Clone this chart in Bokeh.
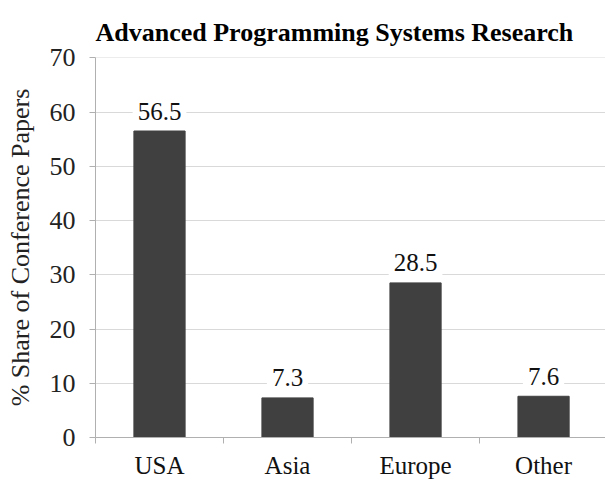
from bokeh.plotting import figure
from bokeh.models import ColumnDataSource, FixedTicker, Range1d
from bokeh.core.properties import value
from bokeh.embed import file_html
from bokeh.resources import INLINE

categories = ["USA", "Asia", "Europe", "Other"]
shares = [56.5, 7.3, 28.5, 7.6]
y_ticks = [0, 10, 20, 30, 40, 50, 60, 70]

FONT = "Liberation Serif"
BAR = "#404040"

xpos = [i + 0.5 for i in range(len(categories))]
bounds = [float(i) for i in range(len(categories))]
src = ColumnDataSource(dict(
    x=xpos, y=shares, cat=categories,
    txt=[f"{v:.1f}" for v in shares],
))

p = figure(width=605, height=481, output_backend="svg", toolbar_location=None,
           x_range=Range1d(0, 3.984), y_range=Range1d(0, 70.05),
           min_border_left=95, min_border_right=0, min_border_top=57,
           min_border_bottom=43, outline_line_color=None,
           background_fill_color="white", border_fill_color="white")

p.title.text = "Advanced Programming Systems Research"
p.title.text_font = FONT
p.title.text_font_size = "26px"
p.title.text_font_style = "bold"
p.title.text_color = "black"
p.title.align = "left"
p.title.standoff = 22

p.vbar(x="x", top="y", width=0.4, source=src, fill_color=BAR, line_color=BAR)

# y axis
p.yaxis.ticker = FixedTicker(ticks=y_ticks)
p.yaxis.axis_label = "% Share of Conference Papers"
p.yaxis.axis_label_text_font = FONT
p.yaxis.axis_label_text_font_size = "26px"
p.yaxis.axis_label_text_font_style = "normal"
p.yaxis.axis_label_text_color = "#222222"
p.yaxis.axis_label_standoff = 12
p.yaxis.major_label_text_font = FONT
p.yaxis.major_label_text_font_size = "26px"
p.yaxis.major_label_text_color = "#222222"
p.yaxis.major_label_standoff = 14
p.yaxis.axis_line_color = "#b0b0b0"
p.yaxis.major_tick_line_color = "#b0b0b0"
p.yaxis.major_tick_out = 6
p.yaxis.major_tick_in = 0
p.yaxis.minor_tick_line_color = None

# x axis: labels at category centres, small ticks at category boundaries
p.xaxis.ticker = FixedTicker(ticks=xpos, minor_ticks=bounds)
p.xaxis.major_label_overrides = {x: c for x, c in zip(xpos, categories)}
p.xaxis.major_label_text_font = FONT
p.xaxis.major_label_text_font_size = "25px"
p.xaxis.major_label_text_color = "#111111"
p.xaxis.major_label_standoff = 8
p.xaxis.axis_line_color = "#b0b0b0"
p.xaxis.major_tick_line_color = None
p.xaxis.major_tick_out = 0
p.xaxis.major_tick_in = 0
p.xaxis.minor_tick_line_color = "#b0b0b0"
p.xaxis.minor_tick_out = 6
p.xaxis.minor_tick_in = 0

p.xgrid.grid_line_color = None
p.ygrid.ticker = FixedTicker(ticks=y_ticks[1:])
p.ygrid.grid_line_color = "#d9d9d9"

p.text(x="x", y="y", text="txt", source=src, y_offset=-20,
       text_align="center", text_baseline="alphabetic",
       text_font=value(FONT), text_font_size="25px",
       text_color="#111111",
       background_fill_color="white", padding=5)

open("out.html", "w").write(file_html(p, INLINE))
